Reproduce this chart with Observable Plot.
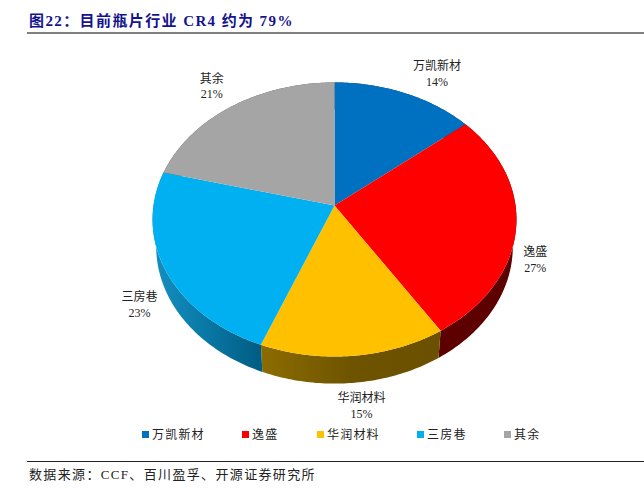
<!DOCTYPE html>
<html><head><meta charset="utf-8">
<script src="https://cdn.jsdelivr.net/npm/d3@7"></script>
<script src="https://cdn.jsdelivr.net/npm/@observablehq/plot@0.6"></script>
<style>
html,body{margin:0;padding:0;background:#fff;}
body{width:644px;height:488px;position:relative;overflow:hidden;font-family:"Liberation Serif","Noto Sans CJK SC",serif;color:#222;}
#title{position:absolute;left:29px;top:10px;font-size:15px;line-height:22px;font-weight:bold;color:#14148c;letter-spacing:1.4px;white-space:pre;}
#rule{position:absolute;left:27px;right:0;top:32px;height:1.5px;background:#808080;}
#chart{position:absolute;left:0;top:34px;}
#legend{position:absolute;left:0;top:426px;width:644px;height:18px;font-size:12px;line-height:18px;letter-spacing:1.2px;}
#legend span{position:absolute;white-space:nowrap;padding-left:10px;}
#legend i{position:absolute;left:0;top:5px;width:7px;height:7px;}
#foot{position:absolute;left:27px;right:0;top:461px;border-top:1px solid #222;font-size:13px;line-height:25px;letter-spacing:1.35px;padding-left:2px;white-space:pre;}
</style></head><body>
<div id="title">图22：目前瓶片行业 CR4 约为 79%</div>
<div id="rule"></div>
<div id="chart"></div>
<div id="legend"></div>
<div id="foot">数据来源：CCF、百川盈孚、开源证券研究所</div>
<script>
const categories = ["万凯新材","逸盛","华润材料","三房巷","其余"];
const shares = [14,27,15,23,21];
const topColors = ["#0070c0","#ff0000","#ffc000","#00b0f0","#a5a5a5"];

const tilt = 0.102, depth = 0.2, baseScale = 0.98;
function project(turn){
  const a = 2*Math.PI*turn, u = Math.sin(a), v = Math.cos(a), w = 1 + tilt*v;
  return [u/w, v/w];
}
let run = 0;
const slices = shares.map((s,i)=>{
  const from = run/100, to = (run+s)/100; run += s;
  const n = Math.ceil(s*4);
  const rim = d3.range(n+1).map(k=>project(from+(to-from)*k/n));
  return {name:categories[i],share:s,color:topColors[i],rim,mid:project((from+to)/2)};
});
const topPts = slices.flatMap((s,i)=>[[0,0],...s.rim,[0,0]].map(([x,y])=>({x,y,i,c:s.color})));
const sideFill = ["#00406c","#5c0000","url(#goldSide)","url(#blueSide)","#555"];
const sidePts = slices.flatMap((s,i)=>[...s.rim.map(([x,y])=>({x,y,i})),...s.rim.slice().reverse().map(([x,y])=>({x:x*baseScale,y:y-depth,i}))]);

const defs = ()=>{
  const svg = d3.create("svg:defs");
  const grad=(id,stops)=>{
    const g=svg.append("linearGradient").attr("id",id).attr("x1",0).attr("x2",1).attr("y1",0).attr("y2",0);
    stops.forEach(([o,c])=>g.append("stop").attr("offset",o).attr("stop-color",c));
  };
  grad("blueSide",[[0,"#1590c0"],[0.45,"#0a7aa8"],[1,"#005c82"]]);
  grad("goldSide",[[0,"#8c6c00"],[0.5,"#6e5400"],[1,"#6a5000"]]);
  return svg.node();
};
const labelOffsets = [[32,-20],[19,32],[8,49],[-26,34],[-20,-21]];
const labels = slices.map((s,i)=>({x:s.mid[0],y:s.mid[1],text:s.name+"\n"+s.share+"%",i}));

const chart = Plot.plot({
  width:644,height:388,margin:0,
  x:{domain:[-1,1],range:[153,515],axis:null},
  y:{domain:[-1,1],range:[306.6,35.4],axis:null},
  marks:[
    defs,
    ...slices.map((s,i)=>Plot.line(sidePts.filter(d=>d.i===i),{x:"x",y:"y",fill:sideFill[i],stroke:"none",curve:"linear"})),
    ...slices.map((s,i)=>Plot.line(topPts.filter(d=>d.i===i),{x:"x",y:"y",fill:s.color,stroke:"none",curve:"linear"})),
    ...labels.map((d,i)=>Plot.text([d],{x:"x",y:"y",text:"text",dx:labelOffsets[i][0],dy:labelOffsets[i][1],fontSize:12,lineHeight:1.3,fill:"#222",fontFamily:'"Liberation Serif","Noto Sans CJK SC",serif'}))
  ]
});
document.getElementById("chart").append(chart);
const lx=[142,242,317,417,504];
const lg=d3.select("#legend");
categories.forEach((c,i)=>{
  const sp=lg.append("span").style("left",lx[i]+"px").text(c);
  sp.append("i").style("background",topColors[i]);
});
</script>
</body></html>
